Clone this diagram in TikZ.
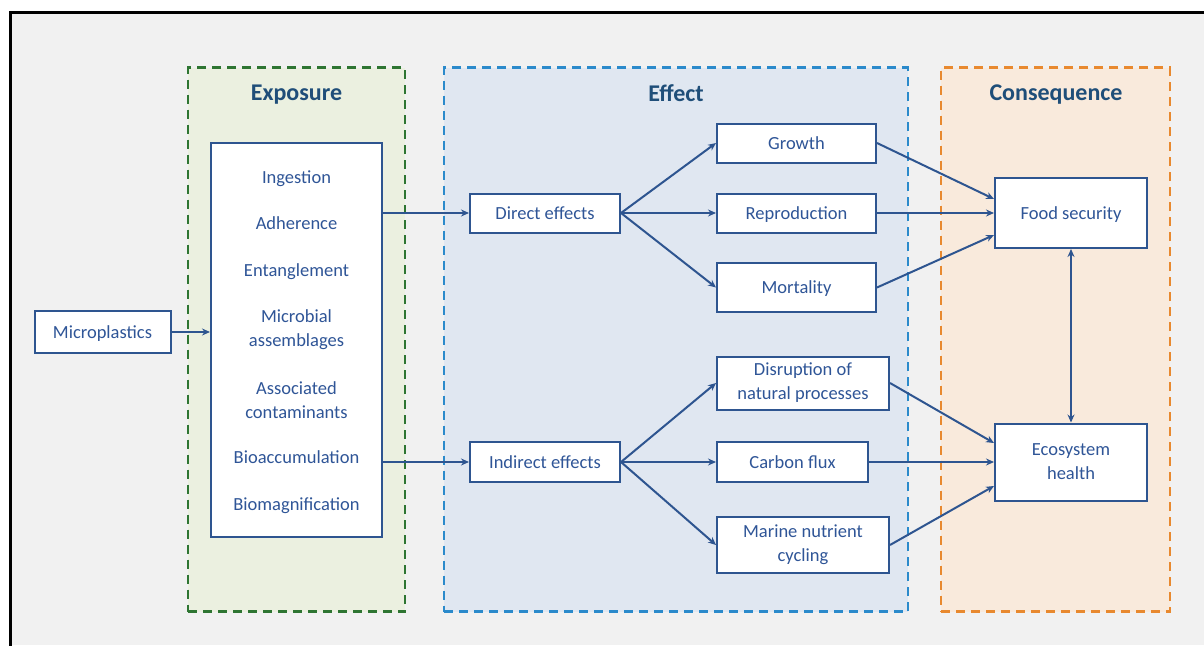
\documentclass[tikz,border=0pt]{standalone}
\usepackage{fontspec}
\setmainfont{Carlito}
\usetikzlibrary{arrows.meta}
\definecolor{txt}{HTML}{2F5597}
\definecolor{ttl}{HTML}{1F4E79}
\definecolor{edge}{HTML}{2E5590}
\definecolor{bgc}{HTML}{F1F1F1}
\definecolor{grnfill}{HTML}{EBF0E0}
\definecolor{grnline}{HTML}{2E7532}
\definecolor{blufill}{HTML}{E0E7F1}
\definecolor{bluline}{HTML}{2B8ACB}
\definecolor{orfill}{HTML}{F9EADC}
\definecolor{orline}{HTML}{E8892F}
\begin{document}
\begin{tikzpicture}[x=1pt,y=-1pt,
  group/.style={draw, line width=2.4pt, dash pattern=on 9pt off 6pt, inner sep=0pt},
  title/.style={font=\fontsize{24}{28}\selectfont\bfseries, text=ttl, text depth=0pt},
  box/.style={draw=edge, line width=2pt, fill=white, inner sep=0pt, align=center,
    font=\fontsize{18.5}{24}\selectfont, text=txt},
  one/.style={text depth=0pt},
  lbl/.style={align=center, font=\fontsize{18.5}{24}\selectfont, text=txt},
  arr/.style={draw=edge, line width=2pt, -{Stealth[length=8pt,width=7pt]}},
  darr/.style={draw=edge, line width=2pt, {Stealth[length=8pt,width=7pt]}-{Stealth[length=8pt,width=7pt]}}
]
\useasboundingbox (0,0) rectangle (1204,645);
\fill[white] (0,0) rectangle (1204,645);
\fill[bgc] (10,12) rectangle (1204,645);
\draw[line width=3pt, line cap=rect] (10,645) -- (10,12) -- (1204,12);

% groups
\node[group, draw=grnline, fill=grnfill, minimum width=217pt, minimum height=544pt] (gexp) at (296.5,339.5) {};
\node[group, draw=bluline, fill=blufill, minimum width=464pt, minimum height=544pt] (geff) at (676,339.5) {};
\node[group, draw=orline, fill=orfill, minimum width=229pt, minimum height=544pt] (gcon) at (1055.5,339.5) {};

\node[title] (texp) at (296.5,93) {Exposure};
\node[title] (teff) at (676,93) {Effect};
\node[title] (tcon) at (1056,93) {Consequence};

% left
\node[box, one, minimum width=136pt, minimum height=42pt] (micro) at (102.5,332) {Microplastics};
\node[box, minimum width=171pt, minimum height=394pt] (inner) at (296.5,340) {};
\node[lbl, one] (ing) at (296.5,177) {Ingestion};
\node[lbl, one] (adh) at (296.5,223) {Adherence};
\node[lbl, one] (ent) at (296.5,270) {Entanglement};
\node[lbl] (mic) at (296.5,330) {Microbial\\assemblages};
\node[lbl] (ass) at (296.5,400) {Associated\\contaminants};
\node[lbl, one] (bioa) at (296.5,457) {Bioaccumulation};
\node[lbl, one] (biom) at (296.5,504) {Biomagnification};

% effect
\node[box, one, minimum width=150pt, minimum height=39pt] (direct) at (545,213) {Direct effects};
\node[box, one, minimum width=150pt, minimum height=40pt] (indirect) at (545,462) {Indirect effects};
\node[box, one, minimum width=159pt, minimum height=39pt] (growth) at (796.5,143) {Growth};
\node[box, one, minimum width=159pt, minimum height=39pt] (repro) at (796.5,213) {Reproduction};
\node[box, one, minimum width=159pt, minimum height=49pt] (mort) at (796.5,287.5) {Mortality};
\node[box, minimum width=172pt, minimum height=53pt] (disr) at (803,383) {Disruption of\\natural processes};
\node[box, one, minimum width=151pt, minimum height=40pt] (carb) at (792.5,462) {Carbon flux};
\node[box, minimum width=172pt, minimum height=56pt] (mar) at (803,545) {Marine nutrient\\cycling};

% consequence
\node[box, one, minimum width=152pt, minimum height=70pt] (food) at (1071,213) {Food security};
\node[box, minimum width=152pt, minimum height=77pt] (eco) at (1071,462) {Ecosystem\\health};

% connectors
\draw[arr] (micro.east) -- (inner.west |- micro.east);
\draw[arr] (inner.east |- direct.west) -- (direct.west);
\draw[arr] (inner.east |- indirect.west) -- (indirect.west);
\draw[arr] (direct.east) -- (growth.west);
\draw[arr] (direct.east) -- (repro.west);
\draw[arr] (direct.east) -- (mort.west);
\draw[arr] (indirect.east) -- (disr.west);
\draw[arr] (indirect.east) -- (carb.west);
\draw[arr] (indirect.east) -- (mar.west);
\draw[arr] (growth.east) -- ([yshift=14pt]food.west);
\draw[arr] (repro.east) -- (food.west);
\draw[arr] (mort.east) -- ([yshift=-22pt]food.west);
\draw[arr] (disr.east) -- ([yshift=19pt]eco.west);
\draw[arr] (carb.east) -- (eco.west);
\draw[arr] (mar.east) -- ([yshift=-24pt]eco.west);
\draw[darr] (food.south) -- (eco.north);
\end{tikzpicture}
\end{document}
